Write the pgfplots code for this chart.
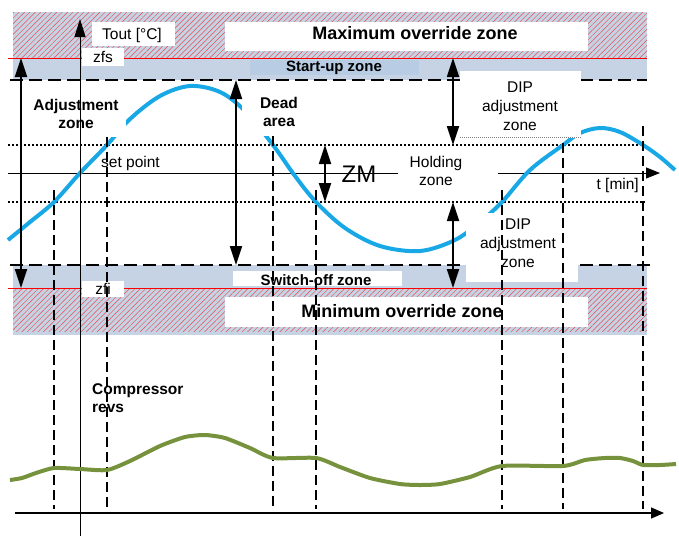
\documentclass[border=0pt]{standalone}
\usepackage{pgfplots}
\pgfplotsset{compat=1.18}
\usepackage{fontspec}
\setmainfont{Liberation Sans}
\usetikzlibrary{patterns.meta,arrows.meta}
\definecolor{band}{HTML}{C5D3E4}
\definecolor{startbox}{HTML}{B8CCE4}
\definecolor{tempblue}{HTML}{19A8E6}
\definecolor{revgreen}{HTML}{76923C}
\begin{document}
\begin{tikzpicture}[
  reg/.style={font=\fontsize{15.5}{18.5}\selectfont, inner sep=0pt, align=center},
  bld/.style={font=\bfseries\fontsize{15.5}{18.5}\selectfont, inner sep=0pt, align=center},
  big/.style={font=\bfseries\fontsize{18}{21}\selectfont, inner sep=0pt},
  dbl/.style={line width=1.8pt, {Triangle[length=19pt,width=12pt]}-{Triangle[length=19pt,width=12pt]}},
  vdash/.style={line width=2pt, dash pattern=on 10pt off 5pt},
  hdash/.style={line width=2.5pt, dash pattern=on 13pt off 6pt},
  hdot/.style={line width=2pt, dash pattern=on 2pt off 2pt},
  hatch/.style={pattern={Lines[angle=45,distance=3.8pt,line width=0.45pt]}, pattern color=red!65!band},
]
\begin{axis}[scale only axis, width=679pt, height=536pt,
  xmin=0, xmax=679, ymin=0, ymax=536, y dir=reverse, hide axis, clip=false]
\path (0,0) rectangle (679,536);
% bands
\fill[band] (13,12) rectangle (647,58);
\fill[hatch] (13,12) rectangle (647,58);
\fill[band] (13,58) rectangle (647,80);
\fill[band] (13,265) rectangle (647,288);
\fill[band] (13,288) rectangle (647,335);
\fill[hatch] (13,288) rectangle (647,331);
\draw[red, line width=1pt] (8,58) -- (647,58);
\draw[red, line width=1pt] (8,288) -- (647,288);
% horizontal lines
\draw[hdash] (10,80) -- (647,80);
\draw[hdash] (10,265) -- (655,265);
\draw[hdot] (8,145) -- (645,145);
\draw[hdot] (8,202) -- (645,202);
\draw[line width=1pt] (8,173) -- (398,173);
\draw[line width=1pt, -{Triangle[length=14pt,width=11pt]}] (498,173) -- (660,173);
% temperature curve
\addplot[tempblue, line width=4pt, smooth, tension=0.55] coordinates {
(8,240) (30,222) (54,202) (80,173) (107,145) (130,119) (160,96) (190,86)
(220,92) (245,111) (273,145) (295,176) (316,202) (345,228) (380,246)
(420,251) (455,240) (480,222) (502,202) (530,170) (563,145) (580,133)
(600,128) (620,132) (643,145) (660,157) (675,170)};
% white boxes
\fill[white] (28,93) rectangle (126,137);
\fill[white] (242,88) rectangle (302,136);
\fill[white] (398,150) rectangle (498,195);
\fill[white] (460,71) rectangle (581,138);
\fill[white] (466,213) rectangle (578,282);
\fill[white] (225,22) rectangle (588,51);
\fill[white] (92,22) rectangle (175,46);
\fill[white] (82,48) rectangle (124,66);
\fill[startbox] (250,60) rectangle (419,75);
\fill[white] (233,271) rectangle (402,286);
\fill[white] (225,297) rectangle (588,327);
\fill[white] (82,281) rectangle (124,297);
\draw[gray, line width=0.5pt, dash pattern=on 1pt off 1pt] (460,137) -- (581,137);
% vertical dashed lines
\draw[vdash] (54,190) -- (54,509);
\draw[vdash] (107,137) -- (107,509);
\draw[vdash] (273,136) -- (273,509);
\draw[vdash] (316,190) -- (316,509);
\draw[vdash] (502,190) -- (502,509);
\draw[vdash] (563,143) -- (563,509);
\draw[vdash] (643,126) -- (643,509);
% arrows
\draw[line width=1pt, -{Triangle[length=18pt,width=11pt]}] (80,536) -- (80,19);
\draw[dbl] (21,58) -- (21,288);
\draw[dbl] (236,80) -- (236,265);
\draw[dbl] (325,145) -- (325,202);
\draw[dbl] (453,58) -- (453,145);
\draw[dbl] (453,202) -- (453,288);
% compressor revs
\addplot[revgreen, line width=4pt, smooth, tension=0.4] coordinates {
(10,480) (22,478) (36,473) (54,468) (80,469) (107,470) (130,461) (160,446)
(185,437) (205,435) (225,438) (250,448) (273,458) (316,458) (340,467)
(370,478) (400,484) (420,485) (440,484) (470,477) (502,466) (563,466)
(585,460) (605,458) (620,458) (633,461) (643,465) (660,465) (676,464)};
\draw[line width=1.3pt, -{Triangle[length=13pt,width=11pt]}] (15,513) -- (664,513);
% texts
\node[big] at (415,33) {Maximum override zone};
\node[big] at (402,311) {Minimum override zone};
\node[reg] at (132,35) {Tout [°C]};
\node[reg] at (103,57) {zfs};
\node[reg] at (103,289) {zfi};
\node[bld, font=\bfseries\fontsize{15}{18}\selectfont] at (334,68) {Start-up zone};
\node[bld, font=\bfseries\fontsize{15}{18}\selectfont] at (316,280) {Switch-off zone};
\node[bld] at (76,114) {Adjustment\\zone};
\node[bld] at (279,112) {Dead\\area};
\node[reg, anchor=west] at (101,163) {set point};
\node[reg, font=\fontsize{24}{26}\selectfont] at (359,174) {ZM};
\node[reg] at (436,171) {Holding\\zone};
\node[reg, anchor=east] at (639,185) {t [min]};
\node[reg, font=\fontsize{15.5}{19}\selectfont] at (520,106) {DIP\\adjustment\\zone};
\node[reg, font=\fontsize{15.5}{19}\selectfont] at (518,243) {DIP\\adjustment\\zone};
\node[bld, align=left, anchor=west] at (92,398) {Compressor\\revs};
\end{axis}
\end{tikzpicture}
\end{document}
